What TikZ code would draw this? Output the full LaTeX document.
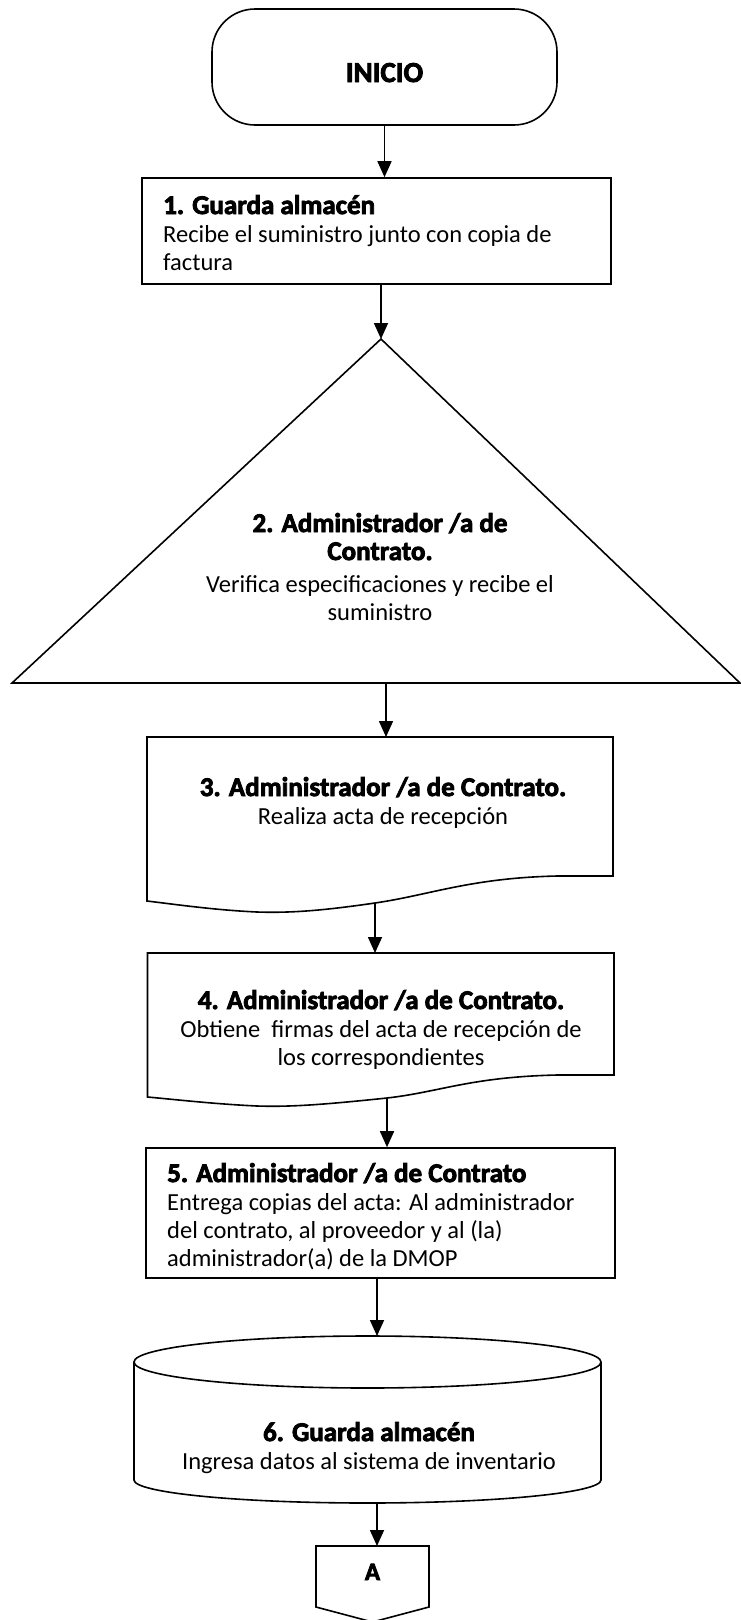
\documentclass[tikz,border=0pt]{standalone}
\usepackage{fontspec}
\setmainfont{Carlito}[BoldFeatures={FakeBold=3}]
\usepackage{tikz}
\usetikzlibrary{positioning,arrows.meta}
\newcommand\tit[1]{{\fontsize{27}{28}\selectfont\bfseries #1}}
\tikzset{
  >={Triangle[width=14pt,length=16pt]},
  linea/.style ={line width=1.6pt, line join=miter},
  flecha/.style={line width=1.6pt, ->},
  caja/.style  ={draw, line width=1.6pt, inner sep=0pt},
  texto/.style ={inner sep=0pt, font=\fontsize{24.5}{28}\selectfont},
}

\begin{document}
\begin{tikzpicture}[x=1pt,y=-1pt]
  \useasboundingbox (0,0) rectangle (741,1620);

  % inicio
  \node[caja, rounded corners=43pt, minimum width=345pt, minimum height=116pt] (inicio) at (384.5,67) {};
  \node[texto, anchor=base, font=\fontsize{29}{28}\selectfont\bfseries] (t-inicio) at (384.5,82) {INICIO};

  % paso 1
  \node[caja, minimum width=469pt, minimum height=106pt] (paso1) at (376.5,231) {};
  \node[texto, anchor=base west, align=left] (t-paso1) at (163,270)
    {\tit{1. Guarda almacén}\\Recibe el suministro junto con copia de\\factura};

  % paso 2 (triangulo)
  \coordinate (tri-top) at (381,339);
  \coordinate (tri-base) at (386,683);
  \draw[linea] (tri-top) -- (740,683) -- (12,683) -- cycle;
  \node[texto, anchor=base, align=center] (t-paso2) at (380,620)
    {\tit{2. Administrador /a de}\\\tit{Contrato.}\\[4pt]Verifica especificaciones y recibe el\\suministro};

  % paso 3 (documento)
  \coordinate (doc3-top) at (386,737);
  \coordinate (ola3) at (375,903);
  \draw[linea] (147,737) -- (613,737) -- (613,876) -- (557,876)
    .. controls (470,878) and (430,895) .. (ola3)
    .. controls (320,911) and (290,913) .. (257,912)
    .. controls (215,910) and (180,905) .. (147,901) -- cycle;
  \node[texto, anchor=base, align=center] (t-paso3) at (383,824)
    {\tit{3. Administrador /a de Contrato.}\\Realiza acta de recepción};

  % paso 4 (documento)
  \coordinate (doc4-top) at (375,953);
  \coordinate (ola4) at (387,1098);
  \draw[linea] (147.5,953) -- (614,953) -- (614,1075) -- (557,1075)
    .. controls (470,1077) and (440,1092) .. (ola4)
    .. controls (320,1105) and (290,1107) .. (257,1106)
    .. controls (215,1104) and (180,1100) .. (147.5,1097) -- cycle;
  \node[texto, anchor=base, align=center] (t-paso4) at (381,1065)
    {\tit{4. Administrador /a de Contrato.}\\Obtiene\ \ firmas del acta de recepción de\\los correspondientes};

  % paso 5
  \node[caja, minimum width=469pt, minimum height=130pt] (paso5) at (380.5,1213) {};
  \node[texto, anchor=base west, align=left] (t-paso5) at (167,1266)
    {\tit{5. Administrador /a de Contrato}\\Entrega copias del acta: Al administrador\\del contrato, al proveedor y al (la)\\administrador(a) de la DMOP};

  % paso 6 (cilindro)
  \coordinate (cil-top) at (377,1336);
  \coordinate (cil-bot) at (377,1503);
  \draw[linea] (134,1362) -- (134,1480) arc[start angle=180, end angle=360, x radius=233.5pt, y radius=23pt] -- (601,1362);
  \draw[linea] (367.5,1362) ellipse [x radius=233.5pt, y radius=26pt];
  \node[texto, anchor=base, align=center] (t-paso6) at (369,1469)
    {\tit{6. Guarda almacén}\\Ingresa datos al sistema de inventario};

  % conector A
  \coordinate (con-top) at (377,1546);
  \draw[linea] (316,1546) -- (429,1546) -- (429,1607) -- (372.5,1622) -- (316,1607) -- cycle;
  \node[texto, anchor=base, font=\fontsize{25}{28}\selectfont\bfseries] (t-conA) at (372.5,1580) {A};

  % flechas
  \draw[flecha] (inicio) -- (inicio |- paso1.north);
  \draw[flecha] (paso1.south -| tri-top) -- (tri-top);
  \draw[flecha] (tri-base) -- (doc3-top);
  \draw[flecha] (ola3) -- (doc4-top);
  \draw[flecha] (ola4) -- (ola4 |- paso5.north);
  \draw[flecha] (paso5.south -| cil-top) -- (cil-top);
  \draw[flecha] (cil-bot) -- (con-top);
\end{tikzpicture}
\end{document}
